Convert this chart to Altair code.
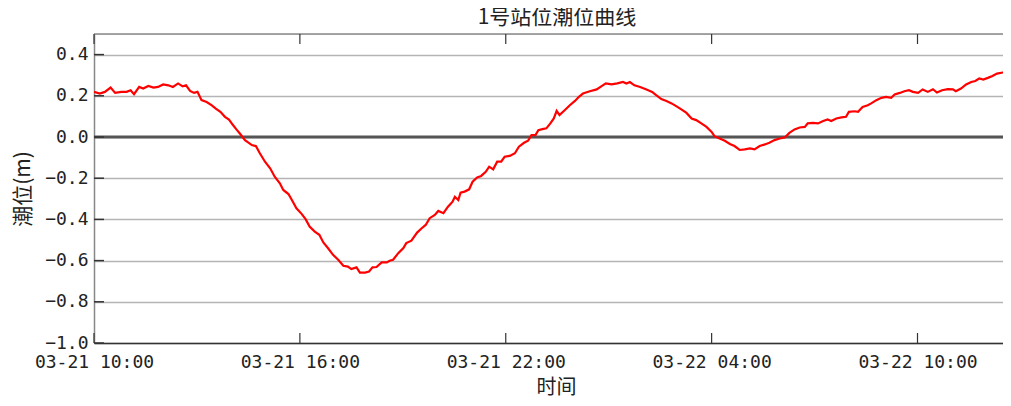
import altair as alt
import pandas as pd

# minutes after 03-21 10:00
minutes = [0, 10, 19, 29, 37, 48, 57, 64, 70, 79, 86, 95, 104, 112, 121, 130, 138, 147, 155, 161,
           168, 175, 181, 188, 197, 206, 213, 221, 229, 236, 243, 249, 255, 264, 276, 283, 290, 299,
           308, 316, 325, 331, 340, 346, 354, 363, 370, 377, 386, 394, 401, 409, 418, 427, 436, 444,
           450, 459, 465, 474, 481, 487, 494, 503, 512, 517, 523, 532, 541, 546, 555, 565, 573, 580,
           587, 596, 602, 611, 619, 627, 631, 637, 641, 648, 656, 662, 670, 677, 685, 691, 698, 705,
           712, 718, 727, 736, 743, 752, 759, 765, 772, 777, 784, 791, 798, 804, 809, 814, 823, 832,
           841, 848, 855, 867, 879, 887, 895, 905, 915, 925, 931, 937, 945, 955, 966, 976, 983, 992,
           1001, 1010, 1018, 1027, 1036, 1045, 1053, 1062, 1071, 1080, 1085, 1094, 1103, 1112, 1120,
           1129, 1138, 1147, 1155, 1164, 1173, 1181, 1190, 1199, 1208, 1216, 1225, 1234, 1243, 1248,
           1257, 1266, 1275, 1283, 1289, 1298, 1307, 1315, 1320, 1330, 1336, 1344, 1353, 1359, 1368,
           1377, 1385, 1394, 1400, 1409, 1417, 1425, 1432, 1441, 1449, 1458, 1467, 1474, 1483, 1493,
           1502, 1507, 1516, 1525, 1534, 1541, 1548, 1555, 1563, 1571, 1579, 1589, 1601]

levels = [0.219, 0.211, 0.219, 0.240, 0.214, 0.219, 0.219, 0.227, 0.208, 0.243, 0.235, 0.248, 0.240,
          0.243, 0.255, 0.251, 0.243, 0.260, 0.246, 0.251, 0.224, 0.214, 0.219, 0.179, 0.170, 0.154,
          0.138, 0.122, 0.098, 0.085, 0.058, 0.037, 0.017, -0.015, -0.039, -0.044, -0.079, -0.120,
          -0.152, -0.193, -0.225, -0.257, -0.277, -0.306, -0.346, -0.373, -0.399, -0.435, -0.459,
          -0.475, -0.512, -0.539, -0.572, -0.596, -0.625, -0.629, -0.641, -0.633, -0.658, -0.658,
          -0.653, -0.633, -0.631, -0.609, -0.609, -0.601, -0.596, -0.564, -0.539, -0.515, -0.503,
          -0.464, -0.443, -0.427, -0.394, -0.378, -0.359, -0.370, -0.338, -0.314, -0.290, -0.306,
          -0.270, -0.265, -0.254, -0.217, -0.196, -0.189, -0.169, -0.144, -0.157, -0.120, -0.120,
          -0.096, -0.092, -0.079, -0.047, -0.028, -0.018, 0.009, 0.009, 0.033, 0.038, 0.042, 0.066,
          0.090, 0.127, 0.106, 0.130, 0.154, 0.175, 0.195, 0.211, 0.222, 0.231, 0.246, 0.260, 0.256,
          0.260, 0.267, 0.260, 0.267, 0.251, 0.243, 0.231, 0.219, 0.203, 0.184, 0.175, 0.163, 0.150,
          0.134, 0.117, 0.090, 0.082, 0.066, 0.049, 0.025, 0.004, -0.007, -0.018, -0.034, -0.044,
          -0.063, -0.060, -0.055, -0.060, -0.044, -0.036, -0.028, -0.015, -0.007, -0.002, 0.020,
          0.037, 0.046, 0.049, 0.066, 0.069, 0.066, 0.078, 0.085, 0.078, 0.090, 0.095, 0.098, 0.122,
          0.125, 0.122, 0.146, 0.154, 0.163, 0.179, 0.190, 0.195, 0.190, 0.206, 0.214, 0.222, 0.227,
          0.219, 0.214, 0.231, 0.219, 0.232, 0.216, 0.227, 0.232, 0.231, 0.222, 0.235, 0.255, 0.267,
          0.272, 0.284, 0.279, 0.287, 0.296, 0.308, 0.313, 0.316]

title_text = "1号站位潮位曲线"
x_title = "时间"
y_title = "潮位(m)"

start = pd.Timestamp("2023-03-21 10:00")
times = [(start + pd.Timedelta(minutes=m)).strftime("%Y-%m-%dT%H:%M:%S") for m in minutes]
df = pd.DataFrame({"time": times, "level": levels})

y_ticks = [-1.0, -0.8, -0.6, -0.4, -0.2, 0.0, 0.2, 0.4]
x_tick_times = ["2023-03-21T10:00:00", "2023-03-21T16:00:00", "2023-03-21T22:00:00",
                "2023-03-22T04:00:00", "2023-03-22T10:00:00"]

W, H = 909, 309

x_scale = alt.Scale(domain=[alt.DateTime(year=2023, month=3, date=21, hours=10),
                            alt.DateTime(year=2023, month=3, date=22, hours=12, minutes=29, seconds=30)])
y_scale = alt.Scale(domain=[-1.0, 0.5], nice=False, zero=False)

x_axis = alt.Axis(
    values=[alt.DateTime(year=2023, month=3, date=21, hours=10),
            alt.DateTime(year=2023, month=3, date=21, hours=16),
            alt.DateTime(year=2023, month=3, date=21, hours=22),
            alt.DateTime(year=2023, month=3, date=22, hours=4),
            alt.DateTime(year=2023, month=3, date=22, hours=10)],
    format="%m-%d\u00a0%H:%M", title=x_title, grid=False, tickSize=0,
    labelFont="DejaVu Sans Mono", labelFontSize=18, labelColor="#222222", labelPadding=10,
    labelFlush=False, labelOverlap=False,
    domainColor="#333333", domainWidth=1.5,
    titleFont="Noto Sans CJK SC", titleFontSize=20, titleFontWeight="normal", titleColor="#222222",
    titleX=462, titleY=44, titleBaseline="middle", titleAlign="center",
)
y_axis = alt.Axis(
    values=y_ticks, format=".1f", title=y_title, grid=True, gridColor="#b4b4b4", gridWidth=1.5,
    tickSize=0, domain=True, domainColor="#888888", domainWidth=1.5,
    labelFont="DejaVu Sans Mono", labelFontSize=18, labelColor="#222222", labelPadding=6,
    labelExpr="replace(datum.label, '-', '\u2212')",
    titleFont="Noto Sans CJK SC", titleFontSize=21, titleFontWeight="normal", titleColor="#222222",
    titleAngle=-90, titleX=-71, titleY=H / 2, titleBaseline="middle", titleAlign="center",
)

line = alt.Chart(df).mark_line(color="#ff0000", strokeWidth=2.2, clip=True).encode(
    x=alt.X("time:T", scale=x_scale, axis=x_axis),
    y=alt.Y("level:Q", scale=y_scale, axis=y_axis),
)

zero = alt.Chart(pd.DataFrame({"v": [0.0]})).mark_rule(color="#555555", strokeWidth=3).encode(
    y=alt.Y("v:Q", scale=y_scale)
)

top_border = alt.Chart(pd.DataFrame({"v": [0.5]})).mark_rule(color="#888888", strokeWidth=1.5).encode(
    y=alt.Y("v:Q", scale=y_scale)
)

ytick_df = pd.DataFrame({"v": y_ticks})
yticks = alt.Chart(ytick_df).mark_rule(color="#333333", strokeWidth=1.5).encode(
    y=alt.Y("v:Q", scale=y_scale), x=alt.value(0), x2=alt.value(10)
)

xtick_df = pd.DataFrame({"t": x_tick_times})
xticks_bottom = alt.Chart(xtick_df).mark_rule(color="#333333", strokeWidth=1.2).encode(
    x=alt.X("t:T", scale=x_scale), y=alt.value(H), y2=alt.value(H - 10)
)
xticks_top = alt.Chart(xtick_df).mark_rule(color="#333333", strokeWidth=1.2).encode(
    x=alt.X("t:T", scale=x_scale), y=alt.value(0), y2=alt.value(10)
)

title_mark = alt.Chart(pd.DataFrame({"t": [title_text]})).mark_text(
    font="Noto Sans CJK SC", fontSize=21, color="#222222", align="center", baseline="bottom"
).encode(text="t:N", x=alt.value(463), y=alt.value(-6))

chart = alt.layer(zero, top_border, yticks, xticks_bottom, xticks_top, line, title_mark).properties(
    width=W, height=H,
    autosize=alt.AutoSizeParams(type="none"),
    padding={"left": 86, "top": 26, "right": 0, "bottom": 54},
).configure_view(stroke=None).configure(background="white")

chart.save("out.html", embed_options={"renderer": "svg", "actions": False})
